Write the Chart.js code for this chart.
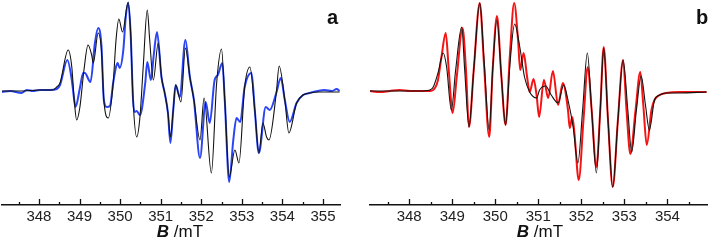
<!DOCTYPE html>
<html><head><meta charset="utf-8">
<script src="https://cdn.jsdelivr.net/npm/chart.js@4.4.1/dist/chart.umd.min.js"></script>
<style>
html,body{margin:0;padding:0;background:#fff;}
body{width:710px;height:240px;position:relative;overflow:hidden;font-family:'Liberation Sans',Arial,sans-serif;}
.box{position:absolute;top:0;height:240px;}
#boxA{left:0;width:352px;}
#boxB{left:360px;width:350px;}
.lbl{position:absolute;font-weight:bold;font-size:20px;line-height:20px;color:#111;}
.ttl{position:absolute;width:120px;text-align:center;font-size:17px;line-height:17px;color:#111;white-space:nowrap;top:223px;}
</style></head><body>
<div class="box" id="boxA"><canvas id="ca" width="352" height="240"></canvas></div>
<div class="box" id="boxB"><canvas id="cb" width="350" height="240"></canvas></div>
<div class="lbl" style="left:327px;top:7px">a</div>
<div class="lbl" style="left:696px;top:7px">b</div>
<div class="ttl" style="left:120px"><b><i>B</i></b> /mT</div>
<div class="ttl" style="left:480px"><b><i>B</i></b> /mT</div>
<script>
// ---- Panel a ----
const tickLabelsA = [348, 349, 350, 351, 352, 353, 354, 355];
const aBlackField = [347.09,347.53,348.02,348.34,348.44,348.52,348.72,348.81,348.87,348.93,349.01,349.11,349.21,349.30,349.34,349.46,349.54,349.60,349.71,349.83,349.90,349.97,350.06,350.20,350.26,350.32,350.41,350.49,350.57,350.67,350.73,350.82,350.94,351.02,351.10,351.18,351.24,351.31,351.37,351.50,351.61,351.72,351.82,351.97,352.07,352.25,352.38,352.50,352.58,352.69,352.83,352.93,353.07,353.20,353.32,353.42,353.52,353.61,353.67,353.85,353.92,354.06,354.16,354.35,354.51,354.67,354.92,355.41];
const aBlackSignal = [0,0,1,1,4,8,41,24,-9,-29,-16,21,46,36,28,58,41,-9,-27,8,51,72,59,89,58,-9,-46,-26,24,81,51,11,48,14,-2,-22,-46,-19,6,-11,43,14,-9,-49,-7,-82,8,42,-9,-86,-59,-72,4,24,-19,-62,-32,-46,-49,-2,25,-9,-42,-12,-4,-2,-1,-1];
const aBlueField = [347.09,347.29,347.57,347.70,347.85,348.02,348.27,348.44,348.52,348.70,348.81,348.87,348.90,349.01,349.09,349.13,349.27,349.38,349.46,349.54,349.60,349.67,349.75,349.83,349.90,349.94,349.99,350.08,350.14,350.20,350.26,350.32,350.36,350.41,350.49,350.62,350.67,350.76,350.83,350.91,351.02,351.10,351.18,351.24,351.31,351.37,351.47,351.61,351.72,351.82,351.97,352.11,352.21,352.33,352.41,352.52,352.58,352.69,352.79,352.87,352.96,353.07,353.24,353.32,353.42,353.59,353.69,353.85,353.96,354.06,354.18,354.35,354.51,354.67,354.87,355.04,355.22,355.34,355.41];
const aBlueSignal = [-1,0,-2,1,0,1,1,2,6,31,11,-9,-16,3,18,18,9,48,63,46,-9,-16,-15,8,24,28,23,41,74,88,58,-9,-21,-20,-24,8,29,11,36,59,14,-2,-22,-52,-19,6,-6,51,14,-9,-67,-11,-32,11,16,28,-9,-91,-49,-27,-31,4,18,-19,-62,-16,-19,-2,13,-9,-31,-12,-4,-2,0,1,0,2,0];

// ---- Panel b ----
const tickLabelsB = [348, 349, 350, 351, 352, 353, 354];
const bBlackField = [347.09,347.78,348.25,348.48,348.56,348.67,348.79,348.87,348.98,349.08,349.22,349.29,349.39,349.50,349.64,349.74,349.86,349.94,350.04,350.14,350.24,350.34,350.45,350.57,350.68,350.80,350.96,351.03,351.17,351.30,351.46,351.59,351.69,351.81,351.92,352.03,352.14,352.24,352.35,352.44,352.52,352.62,352.73,352.85,352.97,353.08,353.17,353.28,353.39,353.49,353.58,353.70,353.82,353.97,354.28,354.91];
const bBlackSignal = [0,0,0,1,4,18,38,24,-19,21,64,21,-36,21,88,31,-39,21,71,16,-34,26,67,44,14,-1,-7,1,5,-4,-12,6,-9,-36,-72,-19,38,-19,-82,-19,43,-29,-96,-29,31,-19,-61,-19,15,-14,-39,-9,-4,-2,-2,-1];
const bRedField = [347.09,347.32,347.55,347.78,348.02,348.25,348.48,348.60,348.67,348.75,348.85,348.92,349.01,349.11,349.24,349.32,349.39,349.50,349.64,349.74,349.86,349.94,350.04,350.14,350.24,350.34,350.44,350.53,350.58,350.66,350.74,350.80,350.89,350.96,351.02,351.13,351.23,351.34,351.46,351.57,351.69,351.73,351.79,351.84,351.94,352.05,352.15,352.24,352.35,352.44,352.52,352.62,352.73,352.85,352.97,353.05,353.14,353.26,353.37,353.44,353.52,353.63,353.70,353.82,353.97,354.28,354.91];
const bRedSignal = [0,-1,0,1,0,0,0,3,11,34,58,21,-22,16,63,21,-36,21,88,26,-46,21,75,16,-34,36,88,51,21,38,14,-1,12,-4,-26,11,-7,20,-14,8,-19,-37,-26,-42,-89,-29,24,-19,-76,-19,44,-29,-96,-29,31,-19,-63,-19,19,-14,-54,-19,-9,-4,-2,-1,-1];

const pts = (xs, ys) => xs.map((x, i) => ({x: x, y: ys[i]}));
const FONT = "'Liberation Sans Narrow','Arial Narrow','Liberation Sans',Arial,sans-serif";

const innerTicks = {
  id: 'innerTicks',
  afterDraw(chart) {
    const s = chart.scales.x, ctx = chart.ctx, y = chart.chartArea.bottom;
    ctx.save();
    ctx.strokeStyle = '#111';
    ctx.lineWidth = 1.3;
    for (let v = Math.ceil(s.min * 2) / 2; v <= s.max + 1e-9; v += 0.5) {
      const px = Math.round(s.getPixelForValue(v)) + 0.5;
      const major = Math.abs(v - Math.round(v)) < 1e-6;
      ctx.beginPath();
      ctx.moveTo(px, y);
      ctx.lineTo(px, y - (major ? 6 : 3));
      ctx.stroke();
    }
    ctx.restore();
  }
};

function makeChart(id, datasets, min, max, ticks, padL, padR) {
  return new Chart(document.getElementById(id), {
    type: 'line',
    data: {datasets: datasets},
    plugins: [innerTicks],
    options: {
      responsive: false,
      devicePixelRatio: 1,
      animation: false,
      events: [],
      layout: {padding: {left: padL, right: padR, top: 0, bottom: 0}},
      plugins: {legend: {display: false}, tooltip: {enabled: false}},
      elements: {point: {radius: 0}, line: {cubicInterpolationMode: 'monotone'}},
      scales: {
        x: {
          type: 'linear', min: min, max: max,
          grid: {display: false, drawTicks: false},
          border: {display: true, color: '#111', width: 1.5},
          afterBuildTicks: s => { s.ticks = ticks.map(v => ({value: v})); },
          afterFit: s => { s.height = 35; },
          ticks: {font: {family: FONT, size: 15}, color: '#222', padding: 3, autoSkip: false, maxRotation: 0,
                  callback: v => String(v)}
        },
        y: {type: 'linear', min: -114, max: 91, display: false}
      }
    }
  });
}

makeChart('ca', [
  {data: pts(aBlackField, aBlackSignal), borderColor: '#111', borderWidth: 1.1, clip: false},
  {data: pts(aBlueField, aBlueSignal), borderColor: '#2a45f5', borderWidth: 2, clip: false}
], 347.09, 355.42, tickLabelsA, 2, 12);

makeChart('cb', [
  {data: pts(bBlackField, bBlackSignal), borderColor: '#111', borderWidth: 1.1, clip: false},
  {data: pts(bRedField, bRedSignal), borderColor: '#f51414', borderWidth: 2, clip: false}
], 347.09, 354.92, tickLabelsB, 10, 3);
</script>
</body></html>
